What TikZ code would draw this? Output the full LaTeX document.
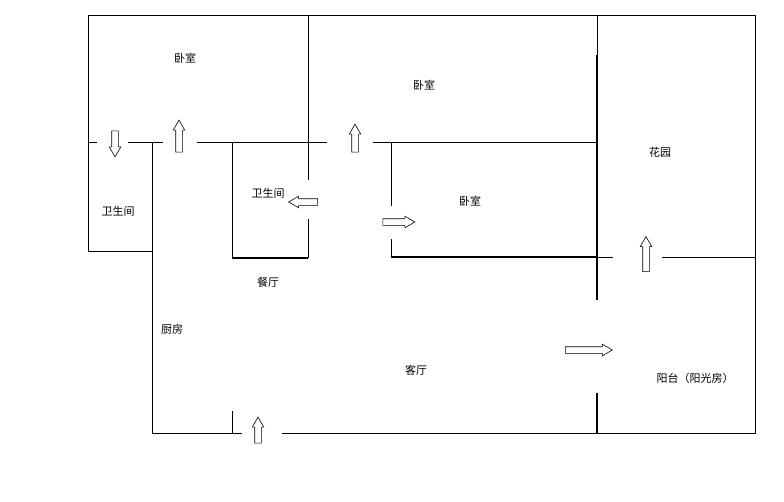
\documentclass[tikz,border=0pt]{standalone}
\usepackage{fontspec}
\setmainfont{Noto Sans CJK SC}
\usetikzlibrary{shapes.arrows}
\begin{document}
\begin{tikzpicture}[x=1pt,y=-1pt,
  wall/.style={line width=1pt},
  thick wall/.style={line width=2pt},
  lbl/.style={font=\fontsize{11}{13}\selectfont, inner sep=0pt},
  barr/.style={single arrow, draw, fill=white, line width=0.6pt, inner sep=3pt,
     single arrow head extend=2.5pt, single arrow tip angle=60, minimum height=#1},
]
\useasboundingbox (0,0) rectangle (784,501);
% outer walls
\draw[wall] (88,15) -- (755,15) -- (755,433) -- (282,433);
\draw[wall] (242,433) -- (152,433) -- (152,142) -- (128,142);
\draw[wall] (97,142) -- (88,142);
\draw[wall] (88,15) -- (88,251) -- (152,251);
\draw[wall] (163,142) -- (152,142);
\draw[wall] (197,142) -- (327,142);
\draw[wall] (373,142) -- (597,142);
\draw[wall] (232,411) -- (232,433);
% bathroom 2
\draw[wall] (232,142) -- (232,258);
\draw[thick wall] (232,258) -- (308,258);
\draw[wall] (308,15) -- (308,180);
\draw[wall] (308,219) -- (308,258);
% bedroom 3
\draw[wall] (391,142) -- (391,206);
\draw[wall] (391,239) -- (391,258);
\draw[thick wall] (391,257) -- (597,257);
% garden / balcony partition
\draw[wall] (597,15) -- (597,55);
\draw[thick wall] (597,55) -- (597,300);
\draw[thick wall] (597,393) -- (597,433);
\draw[wall] (597,257) -- (613,257);
\draw[wall] (662,257) -- (755,257);
% door arrows
\node[barr=26pt, shape border rotate=270] (a1) at (115,141) {};
\node[barr=32pt, shape border rotate=90] (a2) at (179,139) {};
\node[barr=29pt, shape border rotate=180] (a3) at (306,202) {};
\node[barr=28pt, shape border rotate=90] (a4) at (355,141) {};
\node[barr=32pt] (a5) at (396,222) {};
\node[barr=35pt, shape border rotate=90] (a6) at (646,257) {};
\node[barr=47pt] (a7) at (586,350) {};
\node[barr=26pt, shape border rotate=90] (a8) at (258,433) {};
% labels
\node[lbl] (t1) at (185,58) {卧室};
\node[lbl] (t2) at (424,85) {卧室};
\node[lbl] (t3) at (470,201) {卧室};
\node[lbl] (t4) at (660,152) {花园};
\node[lbl] (t5) at (118,211) {卫生间};
\node[lbl] (t6) at (268,193) {卫生间};
\node[lbl] (t7) at (268,282) {餐厅};
\node[lbl] (t8) at (172,329) {厨房};
\node[lbl] (t9) at (416,370) {客厅};
\node[lbl] (t10) at (695,378) {阳台（阳光房）};
\end{tikzpicture}
\end{document}
